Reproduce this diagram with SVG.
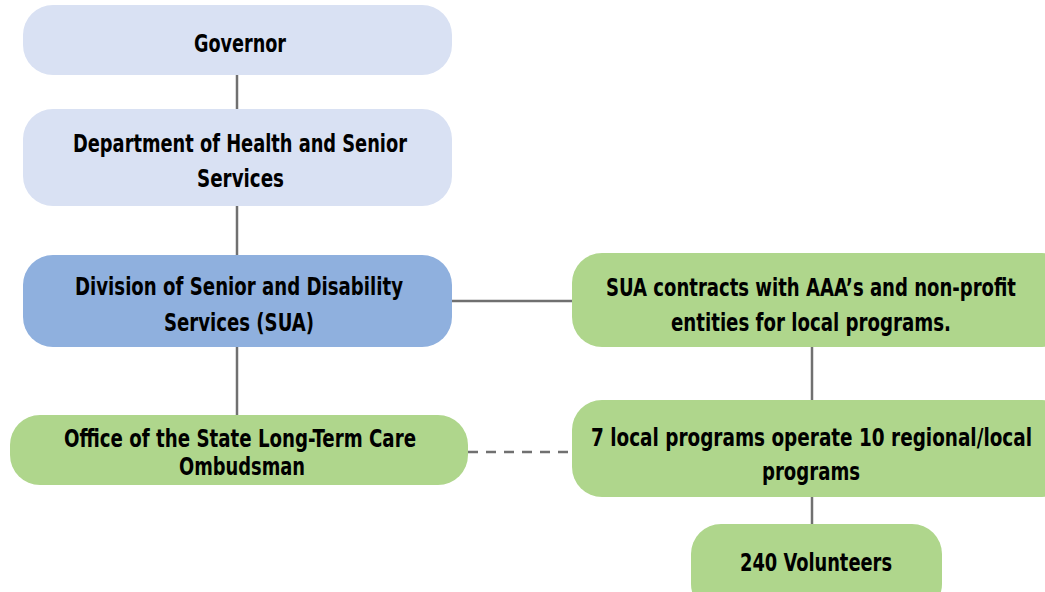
<svg xmlns="http://www.w3.org/2000/svg" width="1045" height="592" viewBox="0 0 1045 592">
<style>
.lb{fill:#D9E1F3}
.mb{fill:#8FB0DE}
.gr{fill:#AFD68C}
.t{font-family:"DejaVu Sans Condensed","Liberation Sans",sans-serif;font-weight:bold;font-size:25px;fill:#000;text-anchor:middle}
.c{stroke:#707070;stroke-width:2.5;fill:none}
.d{stroke-dasharray:10 8}
</style>
<rect width="1045" height="592" fill="#fff"/>
<g id="connectors">
<line class="c" x1="237" y1="75" x2="237" y2="109"/>
<line class="c" x1="237" y1="206" x2="237" y2="255"/>
<line class="c" x1="237" y1="347" x2="237" y2="415"/>
<line class="c" x1="452" y1="301" x2="572" y2="301"/>
<line class="c" x1="812" y1="347" x2="812" y2="400"/>
<line class="c" x1="812" y1="497" x2="812" y2="524"/>
<line class="c d" x1="468" y1="452" x2="572" y2="452"/>
</g>
<g id="governor">
<rect class="lb" x="23" y="5" width="429" height="70" rx="30"/>
<text class="t" x="240" y="52" textLength="92" lengthAdjust="spacingAndGlyphs">Governor</text>
</g>
<g id="dhss">
<rect class="lb" x="23" y="109" width="429" height="97" rx="30"/>
<text class="t" x="240" y="152" textLength="334" lengthAdjust="spacingAndGlyphs">Department of Health and Senior</text>
<text class="t" x="240.5" y="187" textLength="87" lengthAdjust="spacingAndGlyphs">Services</text>
</g>
<g id="division">
<rect class="mb" x="23" y="255" width="429" height="92" rx="30"/>
<text class="t" x="239" y="295" textLength="328" lengthAdjust="spacingAndGlyphs">Division of Senior and Disability</text>
<text class="t" x="239" y="331" textLength="150" lengthAdjust="spacingAndGlyphs">Services (SUA)</text>
</g>
<g id="ombudsman">
<rect class="gr" x="10" y="415" width="458" height="70" rx="30"/>
<text class="t" x="240" y="447" textLength="352" lengthAdjust="spacingAndGlyphs">Office of the State Long-Term Care</text>
<text class="t" x="242" y="475" textLength="126" lengthAdjust="spacingAndGlyphs">Ombudsman</text>
</g>
<g id="sua-contracts">
<rect class="gr" x="572" y="253" width="500" height="94" rx="30"/>
<text class="t" x="811" y="296" textLength="410" lengthAdjust="spacingAndGlyphs">SUA contracts with AAA’s and non-profit</text>
<text class="t" x="811" y="331" textLength="280" lengthAdjust="spacingAndGlyphs">entities for local programs.</text>
</g>
<g id="local-programs">
<rect class="gr" x="572" y="400" width="500" height="97" rx="30"/>
<text class="t" x="811.5" y="446" textLength="441" lengthAdjust="spacingAndGlyphs">7 local programs operate 10 regional/local</text>
<text class="t" x="811" y="480" textLength="98" lengthAdjust="spacingAndGlyphs">programs</text>
</g>
<g id="volunteers">
<rect class="gr" x="691" y="524" width="251" height="90" rx="30"/>
<text class="t" x="816" y="571" textLength="152" lengthAdjust="spacingAndGlyphs">240 Volunteers</text>
</g>
</svg>
